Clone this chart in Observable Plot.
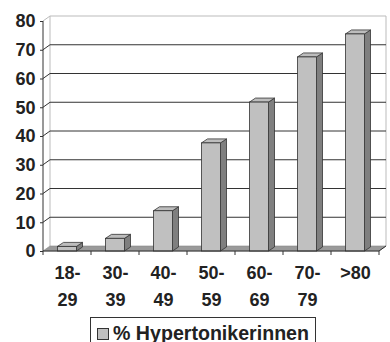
<!DOCTYPE html>
<html>
<head>
<meta charset="utf-8">
<script src="https://cdn.jsdelivr.net/npm/d3@7"></script>
<script src="https://cdn.jsdelivr.net/npm/@observablehq/plot@0.6"></script>
<style>
  html, body { margin: 0; padding: 0; background: #fff; }
  body { font: bold 18px 'Liberation Sans', Arial, sans-serif; color: #222; width: 390px; height: 342px; overflow: hidden; position: relative; }
  #chart { position: absolute; left: 0; top: 0; }
  #legend { position: absolute; left: 90px; top: 317px; width: 226px; height: 30px; border: 1px solid #333; box-sizing: border-box; background: #fff; }
  #legend .sw { position: absolute; left: 6px; top: 10px; width: 12px; height: 12px; background: #c0c0c0; border: 1px solid #333; box-sizing: border-box; }
  #legend .lb { position: absolute; left: 22px; top: 3px; font: bold 19.6px 'Liberation Sans', Arial, sans-serif; white-space: nowrap; line-height: 24px; color: #222; }
</style>
</head>
<body>
<div id="chart"></div>
<div id="legend"><div class="sw"></div><div class="lb"></div></div>
<script>
const categories = ["18-29", "30-39", "40-49", "50-59", "60-69", "70-79", ">80"];
const tickLabels = ["18-\n29", "30-\n39", "40-\n49", "50-\n59", "60-\n69", "70-\n79", ">80"];
const values = [1.6, 4.4, 14, 37.6, 51.8, 67.5, 75.5];
const yTicks = [0, 10, 20, 30, 40, 50, 60, 70, 80];
const seriesName = "% Hypertonikerinnen";

const data = categories.map((c, i) => ({cat: c, value: values[i]}));

const DX = 7, DY = -5;    // wall depth
const BDX = 6, BDY = -4;  // bar depth
const INSET = 14.5;

function bw(scales, dims) {
  const x = scales.x;
  if (x && typeof x.bandwidth === "function") return x.bandwidth();
  return (dims.width - dims.marginLeft - dims.marginRight) / categories.length;
}

function wallMark(index, scales, vals, dims) {
  const y = scales.y;
  const xl = dims.marginLeft, xr = dims.width - dims.marginRight;
  const y0 = y(0), yT = y(yTicks[yTicks.length - 1]);
  const g = d3.create("svg:g").attr("fill", "none");
  g.append("path")
    .attr("d", `M${xl},${yT}L${xl + DX},${yT + DY}H${xr + DX}V${y0 + DY}M${xl + DX},${yT + DY}V${y0 + DY}`)
    .attr("stroke", "#bbb");
  for (const t of yTicks.slice(1, -1)) {
    g.append("path")
      .attr("d", `M${xl},${y(t)}L${xl + DX},${y(t) + DY}H${xr + DX}`)
      .attr("stroke", "#333");
  }
  g.append("path")
    .attr("d", `M${xl},${y0}L${xl + DX},${y0 + DY}H${xr + DX}L${xr},${y0}Z`)
    .attr("fill", "#9a9a9a").attr("stroke", "#888").attr("stroke-width", 0.6);
  return g.node();
}

function axesLines(index, scales, vals, dims) {
  const y = scales.y, x = scales.x;
  const xl = dims.marginLeft, xr = dims.width - dims.marginRight;
  const y0 = y(0), yT = y(yTicks[yTicks.length - 1]);
  const g = d3.create("svg:g").attr("fill", "none").attr("stroke", "#333");
  g.append("path").attr("d", `M${xl},${yT}V${y0}H${xr}L${xr + DX},${y0 + DY}`);
  const w = bw(scales, dims);
  const bounds = categories.map(c => x(c)).concat([x(categories[categories.length - 1]) + w]);
  for (const b of bounds) g.append("path").attr("d", `M${b},${y0}v4`);
  return g.node();
}

function barFaces(index, scales, vals, dims) {
  const y = scales.y, x = scales.x;
  const w = bw(scales, dims);
  const g = d3.create("svg:g").attr("stroke", "#333").attr("stroke-width", 0.8).attr("stroke-linejoin", "round");
  for (const d of data) {
    const l = x(d.cat) + INSET, r = x(d.cat) + w - INSET;
    const t = y(d.value), b = y(0);
    g.append("path")
      .attr("d", `M${r},${b}L${r + BDX},${b + BDY}V${t + BDY}L${r},${t}Z`)
      .attr("fill", "#7f7f7f");
    g.append("path")
      .attr("d", `M${l},${t}L${l + BDX},${t + BDY}H${r + BDX}L${r},${t}Z`)
      .attr("fill", "#bdbdbd");
  }
  return g.node();
}

const plot = Plot.plot({
  width: 390,
  height: 316,
  marginLeft: 43,
  marginRight: 11,
  marginTop: 21,
  marginBottom: 65,
  style: {fontFamily: "'Liberation Sans', Arial, sans-serif", color: "#222", background: "transparent"},
  x: {domain: categories, padding: 0, label: null},
  y: {domain: [0, 80], label: null},
  marks: [
    wallMark,
    barFaces,
    Plot.barY(data, {x: "cat", y: "value", fill: "#c0c0c0", stroke: "#333", strokeWidth: 0.8, insetLeft: INSET, insetRight: INSET}),
    axesLines,
    Plot.axisY({ticks: yTicks, tickSize: 3, tickPadding: 5, fontSize: 18, fontWeight: "bold", stroke: "#333", fill: "#222", label: null}),
    Plot.axisX({tickSize: 0, tickPadding: 8, fontSize: 18, fontWeight: "bold", fill: "#222", lineHeight: 1.5,
      tickFormat: d => tickLabels[categories.indexOf(d)], label: null})
  ]
});
document.getElementById("chart").appendChild(plot);
document.querySelector("#legend .lb").textContent = seriesName;
</script>
</body>
</html>
